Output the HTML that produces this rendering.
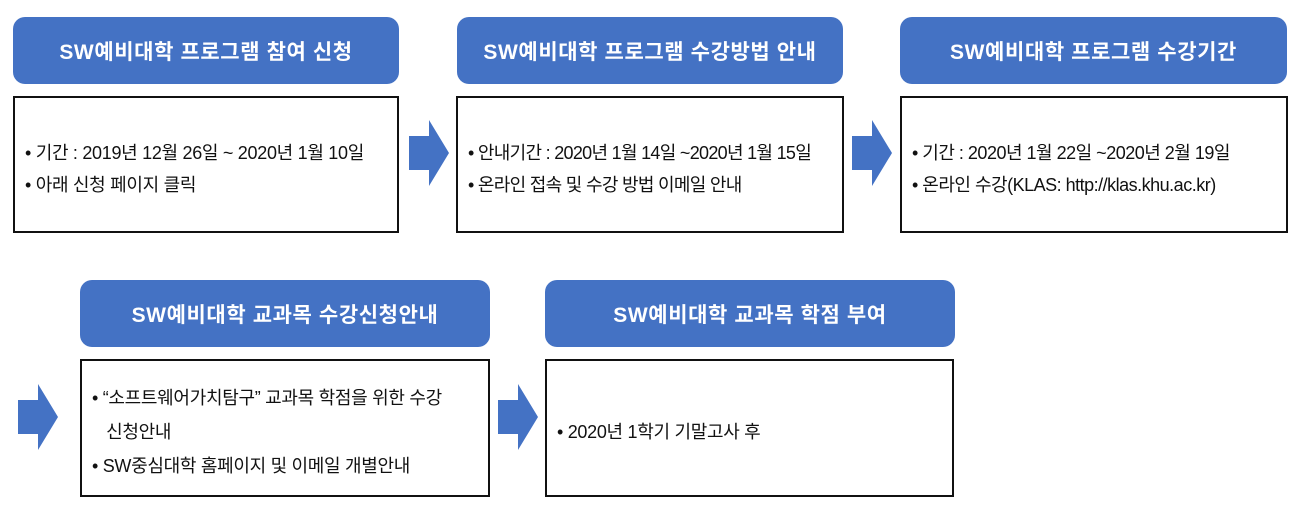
<!DOCTYPE html>
<html><head><meta charset="utf-8"><style>
body{margin:0;width:1304px;height:506px;background:#fff;position:relative;overflow:hidden;font-family:"Liberation Sans","Noto Sans CJK KR",sans-serif}
.h{position:absolute;background:#4472c4;border-radius:12px;color:#fff;font-weight:bold;font-size:21px;letter-spacing:0.6px;display:flex;align-items:center;justify-content:center;height:67px}
.b{position:absolute;border:2px solid #111;box-sizing:border-box;font-size:18px;letter-spacing:-0.3px;color:#111;display:flex;flex-direction:column;justify-content:center;padding-left:10px;padding-top:8px;line-height:32px}
.a{position:absolute;width:40px;height:66px}
</style></head><body>
<div class="h" style="left:13px;top:17px;width:386px">SW예비대학 프로그램 참여 신청</div>
<div class="h" style="left:457px;top:17px;width:386px">SW예비대학 프로그램 수강방법 안내</div>
<div class="h" style="left:900px;top:17px;width:387px">SW예비대학 프로그램 수강기간</div>
<div class="b" style="left:13px;top:96px;width:386px;height:137px"><div>• 기간 : 2019년 12월 26일 ~ 2020년 1월 10일</div><div>• 아래 신청 페이지 클릭</div></div>
<div class="b" style="left:456px;top:96px;width:388px;height:137px;letter-spacing:-0.7px"><div>• 안내기간 : 2020년 1월 14일 ~2020년 1월 15일</div><div>• 온라인 접속 및 수강 방법 이메일 안내</div></div>
<div class="b" style="left:900px;top:96px;width:388px;height:137px;letter-spacing:-0.5px"><div>• 기간 : 2020년 1월 22일 ~2020년 2월 19일</div><div>• 온라인 수강(KLAS: http://klas.khu.ac.kr)</div></div>
<svg class="a" style="left:409px;top:120px" viewBox="0 0 40 66"><polygon points="0,16 20,16 20,0 40,33 20,66 20,50 0,50" fill="#4472c4"/></svg>
<svg class="a" style="left:852px;top:120px" viewBox="0 0 40 66"><polygon points="0,16 20,16 20,0 40,33 20,66 20,50 0,50" fill="#4472c4"/></svg>
<div class="h" style="left:80px;top:280px;width:410px">SW예비대학 교과목 수강신청안내</div>
<div class="h" style="left:545px;top:280px;width:410px">SW예비대학 교과목 학점 부여</div>
<div class="b" style="left:80px;top:359px;width:410px;height:138px;line-height:34px"><div>• “소프트웨어가치탐구” 교과목 학점을 위한 수강</div><div>&nbsp;&nbsp;&nbsp;신청안내</div><div>• SW중심대학 홈페이지 및 이메일 개별안내</div></div>
<div class="b" style="left:545px;top:359px;width:409px;height:138px"><div>• 2020년 1학기 기말고사 후</div></div>
<svg class="a" style="left:18px;top:384px" viewBox="0 0 40 66"><polygon points="0,16 20,16 20,0 40,33 20,66 20,50 0,50" fill="#4472c4"/></svg>
<svg class="a" style="left:498px;top:384px" viewBox="0 0 40 66"><polygon points="0,16 20,16 20,0 40,33 20,66 20,50 0,50" fill="#4472c4"/></svg>
</body></html>
